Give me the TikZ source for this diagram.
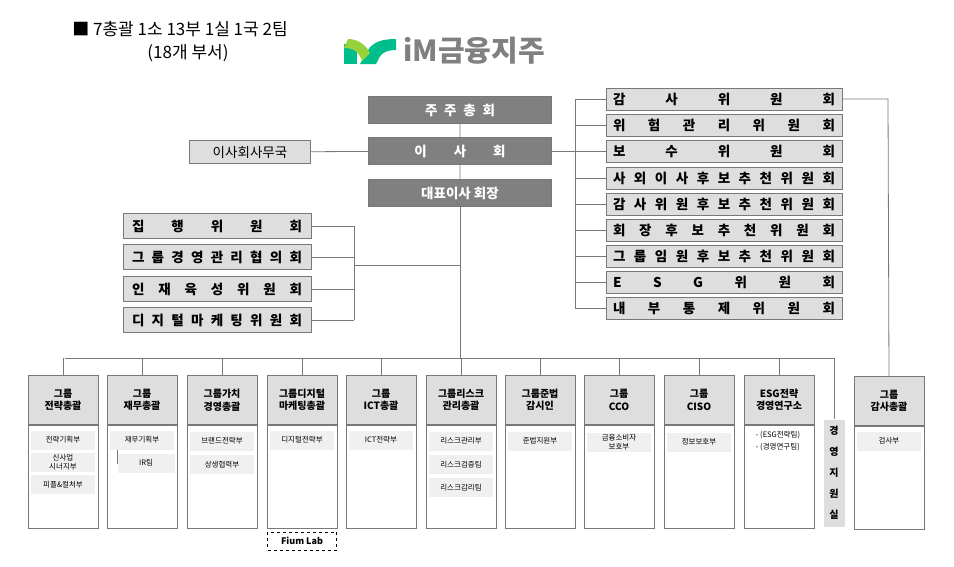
\documentclass[tikz,border=0pt]{standalone}
\usepackage{fontspec}
\setmainfont{Noto Sans CJK KR}
\usetikzlibrary{positioning}
\definecolor{boardgray}{RGB}{128,128,128}
\definecolor{cmtgray}{RGB}{222,222,222}
\definecolor{subgray}{RGB}{240,240,240}
\definecolor{linegray}{RGB}{120,120,120}
\definecolor{imgreen}{RGB}{0,190,140}
\definecolor{imlime}{RGB}{150,210,60}
\newcommand{\wide}[1]{\parfillskip=0pt #1}
\begin{document}
\begin{tikzpicture}[x=1pt,y=-1pt,
  board/.style={draw=linegray,fill=boardgray,text=white,minimum width=183,minimum height=27,font=\fontsize{13.5}{15}\selectfont\bfseries},
  cmt/.style={draw=linegray,fill=cmtgray,minimum width=236,minimum height=22,text width=222,align=justify,font=\fontsize{13.5}{15}\selectfont\bfseries},
  lcmt/.style={draw=linegray,fill=cmtgray,minimum width=188,minimum height=25,text width=170,align=justify,font=\fontsize{13.5}{15}\selectfont\bfseries},
  head/.style={draw=linegray,fill=cmtgray,minimum width=70,minimum height=49,align=center,font=\fontsize{10}{12.5}\selectfont\bfseries},
  body/.style={draw=linegray,fill=white,minimum width=70,minimum height=103},
  sub/.style={fill=subgray,minimum width=64,minimum height=19,align=center,inner sep=1pt,font=\fontsize{7.5}{9.5}\selectfont},
  conn/.style={draw=linegray,thick}]
\useasboundingbox (0,0) rectangle (954,566);
% title and logo
\node[font=\fontsize{17}{20}\selectfont] (title) at (180,29) {■ 7총괄 1소 13부 1실 1국 2팀};
\node[font=\fontsize{17}{20}\selectfont] (title2) at (188,53) {(18개 부서)};
\fill[imgreen] (344,64) -- (344,44) -- (357,44) -- (357,64) -- cycle;
\fill[imgreen] (360,64) -- (368,50) .. controls (373,42) and (382,39) .. (396,39) -- (396,50) .. controls (388,50) and (382,52) .. (379,58) -- (376,64) -- cycle;
\fill[imlime] (348,39) .. controls (358,39) and (366,45) .. (370,53) -- (362,61) .. controls (359,52) and (354,48) .. (344,48) -- cycle;
\node[anchor=west,text=boardgray,font=\fontsize{29}{32}\selectfont\bfseries] (logo) at (400,51) {iM금융지주};
% board
\node[board] (agm) at (460,110) {주\enspace 주\enspace 총\enspace 회};
\node[board] (bod) at (460,151) {이\qquad 사\qquad 회};
\node[board] (ceo) at (460,193) {대표이사 회장};
\node[draw=linegray,fill=cmtgray,minimum width=121,minimum height=23,font=\fontsize{13.5}{15}\selectfont] (sec) at (250,152) {이사회사무국};
\draw[conn] (agm) -- (bod) (bod) -- (ceo) (sec) -- (bod);
% right committees
\node[cmt] (r1) at (724,99) {\wide{감\hfill 사\hfill 위\hfill 원\hfill 회}};
\node[cmt] (r2) at (724,125) {\wide{위\hfill 험\hfill 관\hfill 리\hfill 위\hfill 원\hfill 회}};
\node[cmt] (r3) at (724,151) {\wide{보\hfill 수\hfill 위\hfill 원\hfill 회}};
\node[cmt] (r4) at (724,178) {\wide{사\hfill 외\hfill 이\hfill 사\hfill 후\hfill 보\hfill 추\hfill 천\hfill 위\hfill 원\hfill 회}};
\node[cmt] (r5) at (724,204) {\wide{감\hfill 사\hfill 위\hfill 원\hfill 후\hfill 보\hfill 추\hfill 천\hfill 위\hfill 원\hfill 회}};
\node[cmt] (r6) at (724,230) {\wide{회\hfill 장\hfill 후\hfill 보\hfill 추\hfill 천\hfill 위\hfill 원\hfill 회}};
\node[cmt] (r7) at (724,256) {\wide{그\hfill 룹\hfill 임\hfill 원\hfill 후\hfill 보\hfill 추\hfill 천\hfill 위\hfill 원\hfill 회}};
\node[cmt] (r8) at (724,282) {\wide{E\hfill S\hfill G\hfill 위\hfill 원\hfill 회}};
\node[cmt] (r9) at (724,308) {\wide{내\hfill 부\hfill 통\hfill 제\hfill 위\hfill 원\hfill 회}};
\coordinate (rbus) at (575,151);
\draw[conn] (bod) -- (rbus);
\draw[conn] (575,99) -- (575,308);
\foreach \r in {r1,r2,r3,r4,r5,r6,r7,r8,r9}
  \draw[conn] (\r.west) -- (\r.west -| rbus);
% left committees
\node[lcmt] (l1) at (217,226) {\wide{집\hfill 행\hfill 위\hfill 원\hfill 회}};
\node[lcmt] (l2) at (217,257) {\wide{그\hfill 룹\hfill 경\hfill 영\hfill 관\hfill 리\hfill 협\hfill 의\hfill 회}};
\node[lcmt] (l3) at (217,289) {\wide{인\hfill 재\hfill 육\hfill 성\hfill 위\hfill 원\hfill 회}};
\node[lcmt] (l4) at (217,320) {\wide{디\hfill 지\hfill 털\hfill 마\hfill 케\hfill 팅\hfill 위\hfill 원\hfill 회}};
\coordinate (lbus) at (354,265);
\draw[conn] (354,226) -- (354,320);
\foreach \l in {l1,l2,l3,l4}
  \draw[conn] (\l.east) -- (\l.east -| lbus);
\draw[conn] (lbus) -- (460,265);
% main trunk
\coordinate (trunk) at (460,358);
\draw[conn] (ceo) -- (trunk);
\draw[conn] (65,358) -- (834,358);
% divisions
\foreach \x/\t [count=\i] in {63/{그룹\\전략총괄},142/{그룹\\재무총괄},222/{그룹가치\\경영총괄},302/{그룹디지털\\마케팅총괄},381/{그룹\\ICT총괄},461/{그룹리스크\\관리총괄},540/{그룹준법\\감시인},619/{그룹\\CCO},699/{그룹\\CISO},779/{ESG전략\\경영연구소}}{
  \node[head] (h\i) at (\x,400) {\t};
  \node[body,below=0pt of h\i] (b\i) {};
  \draw[conn] (h\i.north) -- (h\i.north |- trunk);
}
\node[head] (h11) at (889,401) {그룹\\감사총괄};
\node[body,below=0pt of h11] (b11) {};
\draw[conn] (r1.east) -- (888,99) -- (h11.north);
\node[fill=cmtgray,minimum width=21,minimum height=107,align=center,inner sep=0pt,font=\fontsize{10}{21}\selectfont\bfseries] (mgmt) at (834,473) {경\\영\\지\\원\\실};
\draw[conn] (mgmt.north) -- (834,358);
% sub-units
\node[sub] (s1a) at (63,440) {전략기획부};
\node[sub,below=3pt of s1a] (s1b) {신사업\\시너지부};
\node[sub,below=3pt of s1b] (s1c) {피플\&컬처부};
\node[sub] (s2a) at (142,440) {재무기획부};
\node[sub,minimum width=57] (s2b) at (146,463) {IR팀};
\draw[linegray] (s2a.south west) ++(7,0) |- (s2b.west);
\node[sub] (s3a) at (222,441) {브랜드전략부};
\node[sub,below=4pt of s3a] (s3b) {상생협력부};
\node[sub] (s4a) at (302,440) {디지털전략부};
\node[sub] (s5a) at (381,440) {ICT전략부};
\node[sub] (s6a) at (461,441) {리스크관리부};
\node[sub,below=4pt of s6a] (s6b) {리스크검증팀};
\node[sub,below=4pt of s6b] (s6c) {리스크감리팀};
\node[sub] (s7a) at (540,441) {준법지원부};
\node[sub] (s8a) at (619,442) {금융소비자\\보호부};
\node[sub] (s9a) at (699,442) {정보보호부};
\node[align=left,font=\fontsize{7.5}{12}\selectfont] (s10a) at (778,441) {- (ESG전략팀)\\- (경영연구팀)};
\node[sub] (s11a) at (889,441) {검사부};
\node[draw=black,dashed,minimum width=69,minimum height=18,font=\fontsize{9}{10}\selectfont\bfseries,below=4pt of b4] (fium) {Fium Lab};
\end{tikzpicture}
\end{document}
